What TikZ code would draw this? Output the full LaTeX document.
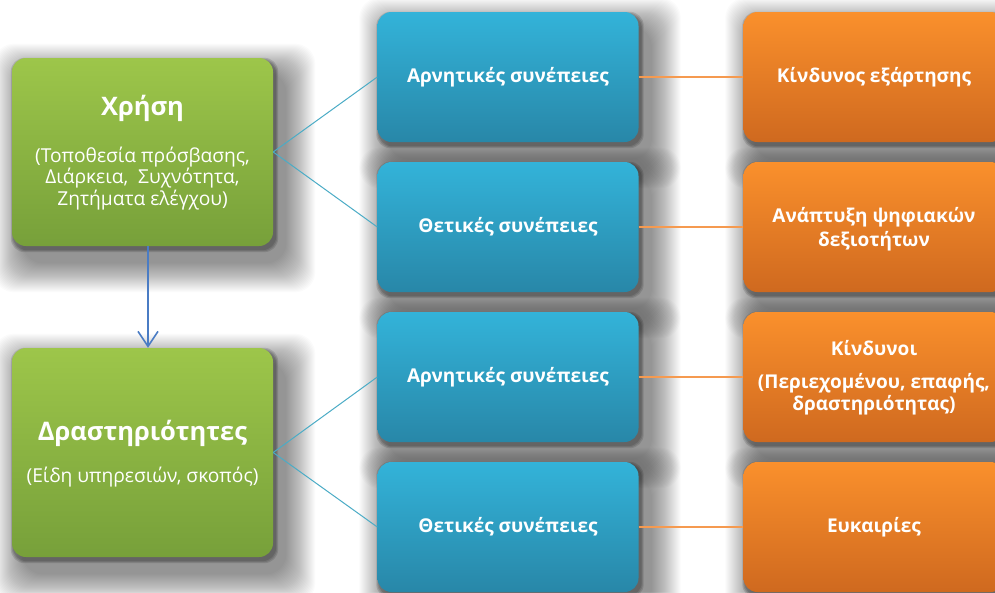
\documentclass[tikz,border=0pt]{standalone}
\usepackage{fontspec}
\setmainfont{Open Sans}
\usetikzlibrary{arrows.meta}
\pgfdeclarelayer{bg}
\pgfsetlayers{bg,main}
\definecolor{gtop}{HTML}{9DC64A}
\definecolor{gbot}{HTML}{77A03A}
\definecolor{btop}{HTML}{33B3D9}
\definecolor{bbot}{HTML}{2887A8}
\definecolor{otop}{HTML}{FA902C}
\definecolor{obot}{HTML}{CF691F}
\definecolor{bline}{HTML}{4BACC6}
\definecolor{oline}{HTML}{F59A50}
\definecolor{arr}{HTML}{4A7CC4}
\begin{document}
\begin{tikzpicture}[x=1pt,y=-1pt,
  box/.style={rectangle, rounded corners=14pt, minimum width=261pt, minimum height=130pt,
    inner sep=0pt, text=white, align=center},
  gbox/.style={box, top color=gtop, bottom color=gbot},
  bbox/.style={box, top color=btop, bottom color=bbot, font=\bfseries\fontsize{19}{24}\selectfont},
  obox/.style={box, top color=otop, bottom color=obot, font=\bfseries\fontsize{19}{25}\selectfont},
  htext/.style={text=white, inner sep=0pt, anchor=base, align=center},
  sub/.style={htext, font=\fontsize{19.2}{22}\selectfont},
  obt/.style={htext, font=\bfseries\fontsize{19}{22}\selectfont},
  bconn/.style={draw=bline, line width=1pt},
  oconn/.style={draw=oline, line width=1.5pt},
  softshadow/.style={fill=black, opacity=0.016, rounded corners=20pt},
  tightshadow/.style={fill=black, opacity=0.12, rounded corners=14pt},
]
\useasboundingbox (0,0) rectangle (995,592);
\clip (0,0) rectangle (995,592);

% green boxes
\node[gbox, minimum height=188pt] (g1) at (142.5,152) {};
\node[gbox, minimum height=209pt] (g2) at (142.5,452.5) {};
\node[htext, font=\bfseries\fontsize{25.5}{30}\selectfont] (g1h) at (142.5,115) {Χρήση};
\node[sub] (g1s1) at (142.5,162) {(Τοποθεσία πρόσβασης,};
\node[sub] (g1s2) at (142.5,183.5) {Διάρκεια,\ \ Συχνότητα,};
\node[sub] (g1s3) at (142.5,205) {Ζητήματα ελέγχου)};
\node[htext, font=\bfseries\fontsize{25.5}{30}\selectfont] (g2h) at (142.5,440) {Δραστηριότητες};
\node[sub] (g2s) at (142.5,482) {(Είδη υπηρεσιών, σκοπός)};

% blue boxes
\node[bbox] (b1) at (508,77) {Αρνητικές συνέπειες};
\node[bbox] (b2) at (508,227) {Θετικές συνέπειες};
\node[bbox] (b3) at (508,377) {Αρνητικές συνέπειες};
\node[bbox] (b4) at (508,527) {Θετικές συνέπειες};

% orange boxes
\node[obox] (o1) at (874,77) {Κίνδυνος εξάρτησης};
\node[obox] (o2) at (874,227) {};
\node[obt] (o2a) at (874,222) {Ανάπτυξη ψηφιακών};
\node[obt] (o2b) at (874,246.5) {δεξιοτήτων};
\node[obox] (o3) at (874,377) {};
\node[obt] (o3h) at (874,355) {Κίνδυνοι};
\node[obt] (o3s1) at (874,388.5) {(Περιεχομένου, επαφής,};
\node[obt] (o3s2) at (874,410) {δραστηριότητας)};
\node[obox] (o4) at (874,527) {Ευκαιρίες};

% soft shadows
\begin{pgfonlayer}{bg}
  \fill[white] (0,0) rectangle (995,592);
  \foreach \n in {g1,g2,b1,b2,b3,b4,o1,o2,o3,o4}{
    \foreach \k in {1,...,30}{
      \fill[softshadow]
        ([shift={(12-\k,16-\k)}]\n.north west) rectangle
        ([shift={(12+\k,16+\k)}]\n.south east);
    }
    \foreach \k in {1,2,3}{
      \fill[tightshadow]
        ([shift={(2-\k,3-\k)}]\n.north west) rectangle
        ([shift={(2+\k,3+\k)}]\n.south east);
    }
  }
\end{pgfonlayer}

% connectors
\draw[bconn] (g1.east) -- (b1.west);
\draw[bconn] (g1.east) -- (b2.west);
\draw[bconn] (g2.east) -- (b3.west);
\draw[bconn] (g2.east) -- (b4.west);
\draw[oconn] (b1.east) -- (o1.west);
\draw[oconn] (b2.east) -- (o2.west);
\draw[oconn] (b3.east) -- (o3.west);
\draw[oconn] (b4.east) -- (o4.west);
\draw[draw=arr, line width=1.6pt, -{Straight Barb[length=15pt,width=20pt,line width=1.6pt]}]
  ([xshift=5.5pt]g1.south) -- ([xshift=5.5pt]g2.north);
\end{tikzpicture}
\end{document}
